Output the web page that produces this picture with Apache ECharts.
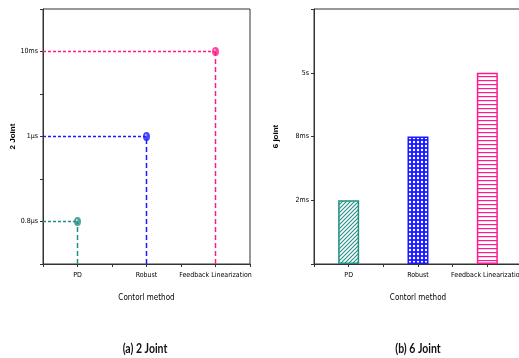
<!DOCTYPE html>
<html>
<head>
<meta charset="utf-8">
<script src="https://cdn.jsdelivr.net/npm/echarts@6/dist/echarts.min.js"></script>
<style>
  html, body { margin: 0; padding: 0; background: #fff; }
  #chart { width: 519px; height: 358px; }
</style>
</head>
<body>
<div id="chart"></div>
<script>
// Control methods compared in both panels
const methods = ['PD', 'Robust', 'Feedback Linearization'];

// (a) 2 joint: ordinal time levels on the y axis and each method's level
const levelTicks2 = ['', '0.8μs', '', '1μs', '', '10ms', ''];
const joint2Times = ['0.8μs', '1μs', '10ms'];

// (b) 6 joint: ordinal time levels and each method's bar height
const levelTicks6 = ['', '2ms', '8ms', '5s', ''];
const joint6Times = ['2ms', '8ms', '5s'];

const colors = ['#1f8f86', '#1a1aff', '#ff1a8c'];

const narrow = '"Liberation Sans Narrow", "DejaVu Sans Condensed", Arial, sans-serif';

// Hatch fills for the bars
function makePattern(kind, color) {
  const c = document.createElement('canvas');
  const ctx = c.getContext('2d');
  c.width = 4; c.height = 4;
  if (kind === 'diag') {
    ctx.fillStyle = '#fff'; ctx.fillRect(0, 0, 4, 4);
    ctx.strokeStyle = color; ctx.lineWidth = 1.1;
    ctx.beginPath();
    ctx.moveTo(-1, 5); ctx.lineTo(5, -1);
    ctx.moveTo(-1, 1); ctx.lineTo(1, -1);
    ctx.moveTo(3, 5); ctx.lineTo(5, 3);
    ctx.stroke();
  } else if (kind === 'cross') {
    ctx.fillStyle = color; ctx.fillRect(0, 0, 4, 4);
    ctx.fillStyle = '#fff';
    ctx.beginPath(); ctx.arc(2, 2, 1.2, 0, Math.PI * 2); ctx.fill();
  } else {
    c.height = 4.5;
    ctx.fillStyle = '#fff'; ctx.fillRect(0, 0, 4, 5);
    ctx.fillStyle = color; ctx.fillRect(0, 0, 4, 1.2);
  }
  return { image: c, repeat: 'repeat' };
}
const patterns = [
  makePattern('diag', colors[0]),
  makePattern('cross', colors[1]),
  makePattern('horiz', colors[2])
];

const axisLine = { onZero: false, lineStyle: { color: '#333', width: 1 } };
const tickStyle = { length: 3, lineStyle: { color: '#333', width: 1 } };

function methodLabel(v) {
  return Number.isInteger(v) && methods[v] !== undefined ? methods[v] : '';
}

function xAxisCfg(gridIndex) {
  return {
    type: 'value', gridIndex, min: -0.5, max: 2.5, interval: 0.5,
    splitLine: { show: false },
    axisLine, axisTick: tickStyle,
    axisLabel: { formatter: methodLabel, color: '#000', fontSize: 7, fontFamily: narrow, margin: 8, hideOverlap: false },
    name: 'Contorl method', nameLocation: 'middle', nameGap: 30,
    nameTextStyle: { color: '#000', fontSize: 8, fontFamily: narrow }
  };
}

function yAxisCfg(gridIndex, ticks, name, gap) {
  return {
    type: 'value', gridIndex, min: 0, max: ticks.length - 1, interval: 1,
    splitLine: { show: false },
    axisLine, axisTick: tickStyle,
    axisLabel: { formatter: v => ticks[v] || '', color: '#000', fontSize: 7, fontFamily: narrow, margin: 5 },
    name, nameLocation: 'middle', nameGap: gap, nameRotate: 90,
    nameTextStyle: { color: '#000', fontSize: 8, fontWeight: 'bold', fontFamily: 'Arial, "Liberation Sans", sans-serif' }
  };
}

const series = [];

// (a) dashed guides and markers
joint2Times.forEach((t, i) => {
  const y = levelTicks2.indexOf(t);
  series.push({
    type: 'line', xAxisIndex: 0, yAxisIndex: 0, symbol: 'none', silent: true,
    data: [[-0.5, y], [i, y]],
    lineStyle: { color: colors[i], width: 1.5, type: [3, 2] }
  });
  series.push({
    type: 'line', xAxisIndex: 0, yAxisIndex: 0, symbol: 'none', silent: true,
    data: [[i, 0], [i, y]],
    lineStyle: { color: colors[i], width: 1.5, type: [5, 3] }
  });
  series.push({
    type: 'scatter', xAxisIndex: 0, yAxisIndex: 0, silent: true,
    symbol: 'circle', symbolSize: [7, 9],
    data: [[i, y]],
    itemStyle: {
      color: {
        type: 'radial', x: 0.4, y: 0.35, r: 0.7,
        colorStops: [
          { offset: 0, color: '#ffffff' },
          { offset: 0.25, color: colors[i] },
          { offset: 1, color: colors[i] }
        ]
      }
    },
    z: 5
  });
});

// (b) hatched bars
series.push({
  type: 'bar', xAxisIndex: 1, yAxisIndex: 1, barWidth: 21, silent: true,
  data: joint6Times.map((t, i) => ({
    value: [i, levelTicks6.indexOf(t)],
    itemStyle: { color: patterns[i], borderColor: colors[i], borderWidth: 1.5 }
  }))
});

const captionFont = 'bold 14px Lato, "Open Sans", sans-serif';

const chart = echarts.init(document.getElementById('chart'), null, { renderer: 'canvas' });
chart.setOption({
  animation: false,
  backgroundColor: '#fff',
  grid: [
    { left: 43, top: 9, width: 207, height: 255, show: true, borderColor: '#333', borderWidth: 1,
      backgroundColor: 'transparent', containLabel: false, outerBoundsMode: 'none' },
    { left: 314, top: 9, width: 208, height: 255, show: true, borderColor: '#333', borderWidth: 1,
      backgroundColor: 'transparent', containLabel: false, outerBoundsMode: 'none' }
  ],
  xAxis: [xAxisCfg(0), xAxisCfg(1)],
  yAxis: [
    yAxisCfg(0, levelTicks2, '2 Joint', 25),
    yAxisCfg(1, levelTicks6, '6 joint', 34)
  ],
  series,
  graphic: [
    {
      type: 'text', x: 145, y: 348, scaleX: 0.75, originX: 0, originY: 0,
      style: { text: '(a) 2 Joint', fill: '#111', font: captionFont, textAlign: 'center', textVerticalAlign: 'middle' }
    },
    {
      type: 'text', x: 418, y: 348, scaleX: 0.75, originX: 0, originY: 0,
      style: { text: '(b) 6 Joint', fill: '#111', font: captionFont, textAlign: 'center', textVerticalAlign: 'middle' }
    }
  ]
});
</script>
</body>
</html>
